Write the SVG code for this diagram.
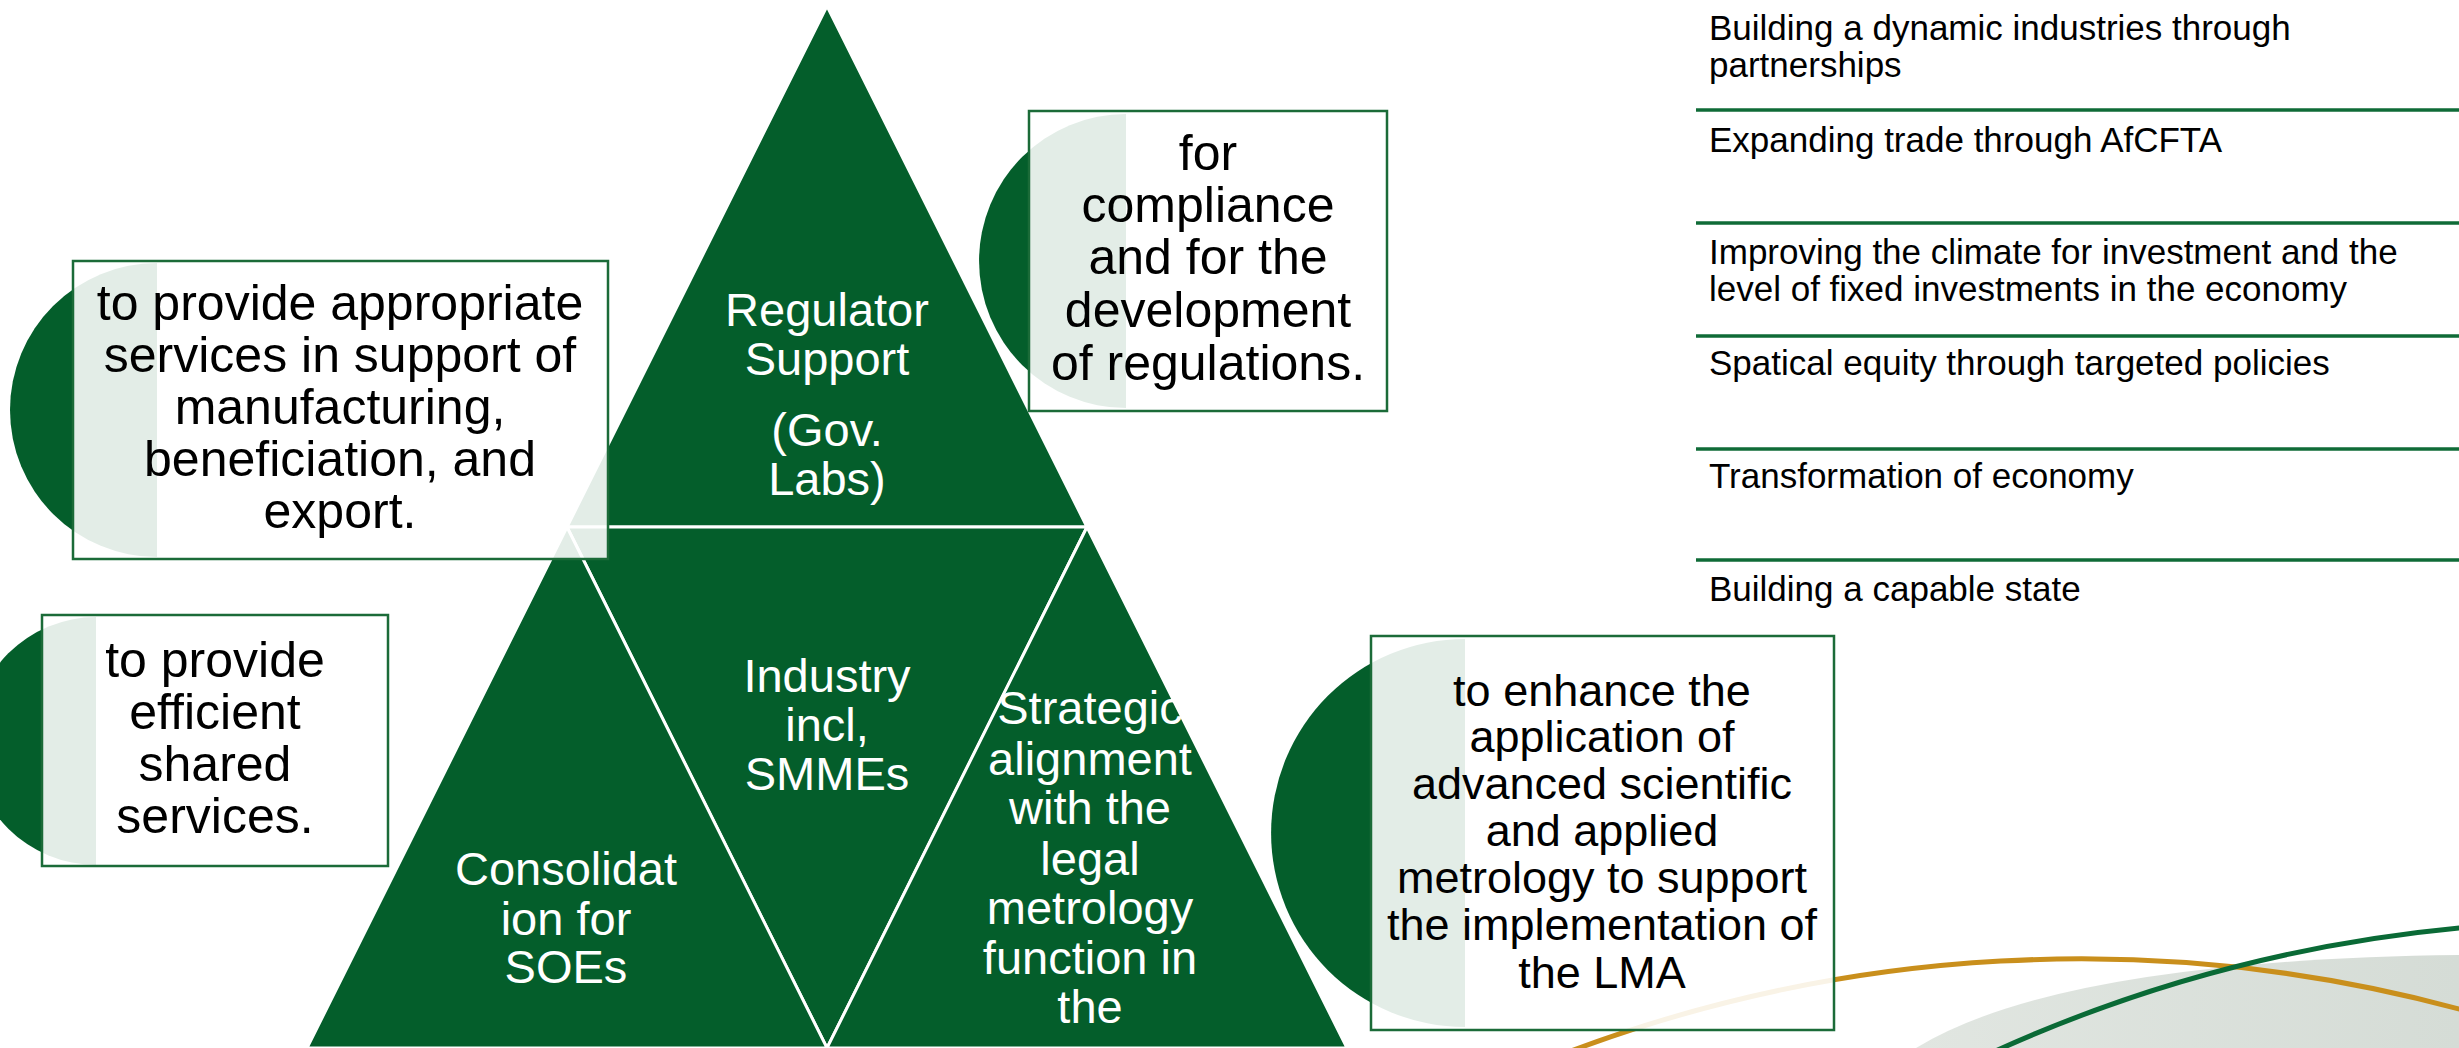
<svg xmlns="http://www.w3.org/2000/svg" width="2459" height="1048" viewBox="0 0 2459 1048">
<style>
.tri{fill:#045E2B;stroke:#ffffff;stroke-width:3;stroke-linejoin:miter}
.circ{fill:#045E2B}
.box{fill:#ffffff;fill-opacity:0.89;stroke:#1B6B38;stroke-width:2.5}
.bt{font-family:"Liberation Sans",Arial,sans-serif;font-size:50px;fill:#000000;text-anchor:middle}
.bd{font-family:"Liberation Sans",Arial,sans-serif;font-size:45px;fill:#000000;text-anchor:middle}
.wt{font-family:"Liberation Sans",Arial,sans-serif;font-size:47px;fill:#ffffff;text-anchor:middle}
.lt{font-family:"Liberation Sans",Arial,sans-serif;font-size:35px;fill:#000000}
.rule{stroke:#0F6B37;stroke-width:3.5}
</style>
<defs>
<linearGradient id="blob" x1="0" y1="0" x2="1" y2="0">
<stop offset="0" stop-color="#E1E6E1"/>
<stop offset="1" stop-color="#D5DCD6"/>
</linearGradient>
</defs>
<rect x="0" y="0" width="2459" height="1048" fill="#ffffff"/>
<g id="decoration">
<path d="M1916,1048 Q2060,960 2459,955 L2459,1048 Z" fill="url(#blob)"/>
<path d="M1540,1063 A1455,1455 0 0 1 2470,1012" fill="none" stroke="#C98F1C" stroke-width="5"/>
<path d="M1976,1060 A1459,1459 0 0 1 2470,927" fill="none" stroke="#0A6A36" stroke-width="5"/>
</g>
<g id="dividers">
<line class="rule" x1="1696" y1="110" x2="2459" y2="110"/>
<line class="rule" x1="1696" y1="223" x2="2459" y2="223"/>
<line class="rule" x1="1696" y1="336" x2="2459" y2="336"/>
<line class="rule" x1="1696" y1="449" x2="2459" y2="449"/>
<line class="rule" x1="1696" y1="560" x2="2459" y2="560"/>
</g>
<g id="list">
<text class="lt" x="1709" y="40">Building a dynamic industries through</text>
<text class="lt" x="1709" y="77">partnerships</text>
<text class="lt" x="1709" y="152">Expanding trade through AfCFTA</text>
<text class="lt" x="1709" y="264">Improving the climate for investment and the</text>
<text class="lt" x="1709" y="301">level of fixed investments in the economy</text>
<text class="lt" x="1709" y="375">Spatical equity through targeted policies</text>
<text class="lt" x="1709" y="488">Transformation of economy</text>
<text class="lt" x="1709" y="601">Building a capable state</text>
</g>
<g id="tri-regulator">
<polygon class="tri" points="827,6 567,527 1087,527"/>
<text class="wt" x="827" y="326">Regulator</text>
<text class="wt" x="827" y="375">Support</text>
<text class="wt" x="827" y="446">(Gov.</text>
<text class="wt" x="827" y="495">Labs)</text>
</g>
<g id="tri-industry">
<polygon class="tri" points="567,527 1087,527 827,1048"/>
<text class="wt" x="827" y="692">Industry</text>
<text class="wt" x="827" y="741">incl,</text>
<text class="wt" x="827" y="790">SMMEs</text>
</g>
<g id="tri-soe">
<polygon class="tri" points="567,527 307,1048 827,1048"/>
<text class="wt" x="566" y="885">Consolidat</text>
<text class="wt" x="566" y="935">ion for</text>
<text class="wt" x="566" y="983">SOEs</text>
</g>
<g id="tri-strategic">
<polygon class="tri" points="1087,527 827,1048 1347,1048"/>
<text class="wt" x="1090" y="724">Strategic</text>
<text class="wt" x="1090" y="775">alignment</text>
<text class="wt" x="1090" y="824">with the</text>
<text class="wt" x="1090" y="875">legal</text>
<text class="wt" x="1090" y="924">metrology</text>
<text class="wt" x="1090" y="974">function in</text>
<text class="wt" x="1090" y="1023">the</text>
</g>
<g id="box-services">
<path class="circ" d="M157,263 A147,147 0 0 0 157,557 Z"/>
<rect class="box" x="73" y="261" width="535" height="298"/>
<text class="bt" x="340" y="320">to provide appropriate</text>
<text class="bt" x="340" y="372">services in support of</text>
<text class="bt" x="340" y="424">manufacturing,</text>
<text class="bt" x="340" y="476">beneficiation, and</text>
<text class="bt" x="340" y="528">export.</text>
</g>
<g id="box-compliance">
<path class="circ" d="M1126,114 A147,147 0 0 0 1126,408 Z"/>
<rect class="box" x="1029" y="111" width="358" height="300"/>
<text class="bt" x="1208" y="170">for</text>
<text class="bt" x="1208" y="222">compliance</text>
<text class="bt" x="1208" y="274">and for the</text>
<text class="bt" x="1208" y="327">development</text>
<text class="bt" x="1208" y="380">of regulations.</text>
</g>
<g id="box-shared">
<path class="circ" d="M96,617 A124,124 0 0 0 96,865 Z"/>
<rect class="box" x="42" y="615" width="346" height="251"/>
<text class="bt" x="215" y="677">to provide</text>
<text class="bt" x="215" y="729">efficient</text>
<text class="bt" x="215" y="781">shared</text>
<text class="bt" x="215" y="833">services.</text>
</g>
<g id="box-lma">
<path class="circ" d="M1465,639 A194,194 0 0 0 1465,1027 Z"/>
<rect class="box" x="1371" y="636" width="463" height="394"/>
<text class="bd" x="1602" y="706">to enhance the</text>
<text class="bd" x="1602" y="752">application of</text>
<text class="bd" x="1602" y="799">advanced scientific</text>
<text class="bd" x="1602" y="846">and applied</text>
<text class="bd" x="1602" y="893">metrology to support</text>
<text class="bd" x="1602" y="940">the implementation of</text>
<text class="bd" x="1602" y="988">the LMA</text>
</g>
</svg>
